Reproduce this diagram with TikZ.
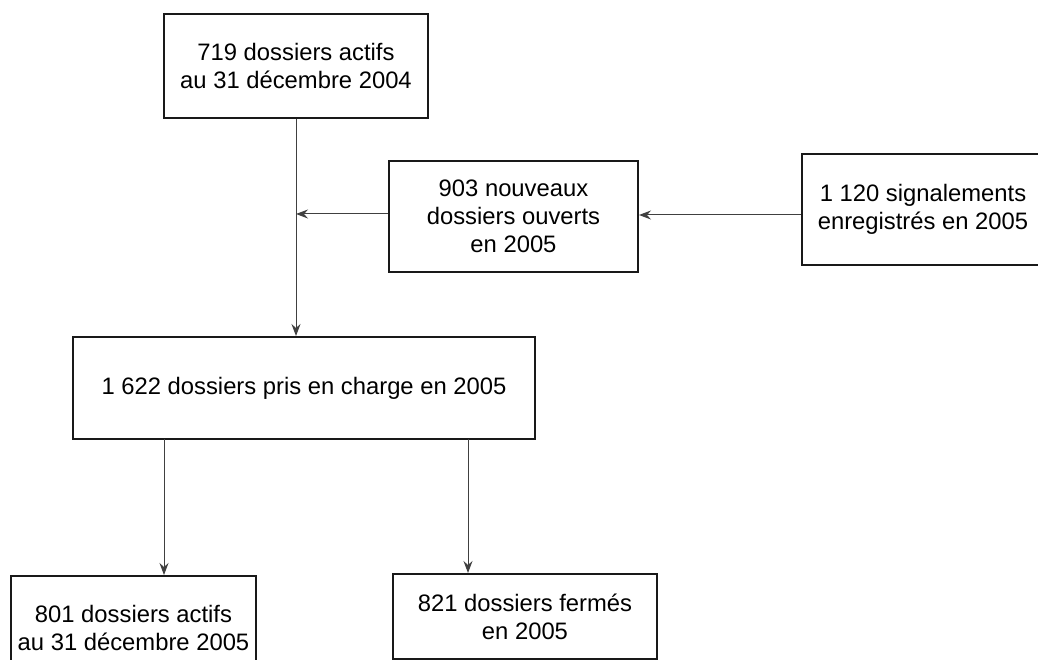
\documentclass[tikz,border=0pt]{standalone}
\usepackage{fontspec}
\setmainfont{Liberation Sans}
\usetikzlibrary{arrows.meta}
\begin{document}
\begin{tikzpicture}[x=1pt,y=-1pt,
  box/.style={draw=black!90, line width=2pt, align=center, inner sep=0pt,
    font=\fontsize{23.8}{28}\selectfont, text=black},
  arr/.style={draw=black!75, line width=1pt, -{Stealth[length=12pt,width=9pt,inset=4pt]}}]
\useasboundingbox (0,0) rectangle (1038,660);
\clip (0,0) rectangle (1038,660);
\node[box, minimum width=264pt, minimum height=104pt] (top) at (296,66)
  {719 dossiers actifs\\au 31 décembre 2004};
\node[box, minimum width=249pt, minimum height=111pt] (mid) at (513.5,216.5)
  {903 nouveaux\\dossiers ouverts\\en 2005};
\node[box, minimum width=242pt, minimum height=111pt] (right) at (923,209.5)
  {1 120 signalements\\enregistrés en 2005};
\node[box, minimum width=462pt, minimum height=102pt] (big) at (304,388)
  {1 622 dossiers pris en charge en 2005};
\node[box, minimum width=245pt, minimum height=104pt] (bl) at (133.5,628)
  {801 dossiers actifs\\au 31 décembre 2005};
\node[box, minimum width=264pt, minimum height=85pt] (br) at (525,616.5)
  {821 dossiers fermés\\en 2005};
\coordinate (j) at (296,214);
\coordinate (k) at (0,215);
\coordinate (a1) at (164,439);
\coordinate (a2) at (468,439);
\draw[arr] (top.south) -- (top.south |- big.north);
\draw[arr] (mid.west |- j) -- (j);
\draw[arr] (right.west |- k) -- (mid.east |- k);
\draw[arr] (a1) -- (a1 |- bl.north);
\draw[arr] (a2) -- (a2 |- br.north);
\end{tikzpicture}
\end{document}
